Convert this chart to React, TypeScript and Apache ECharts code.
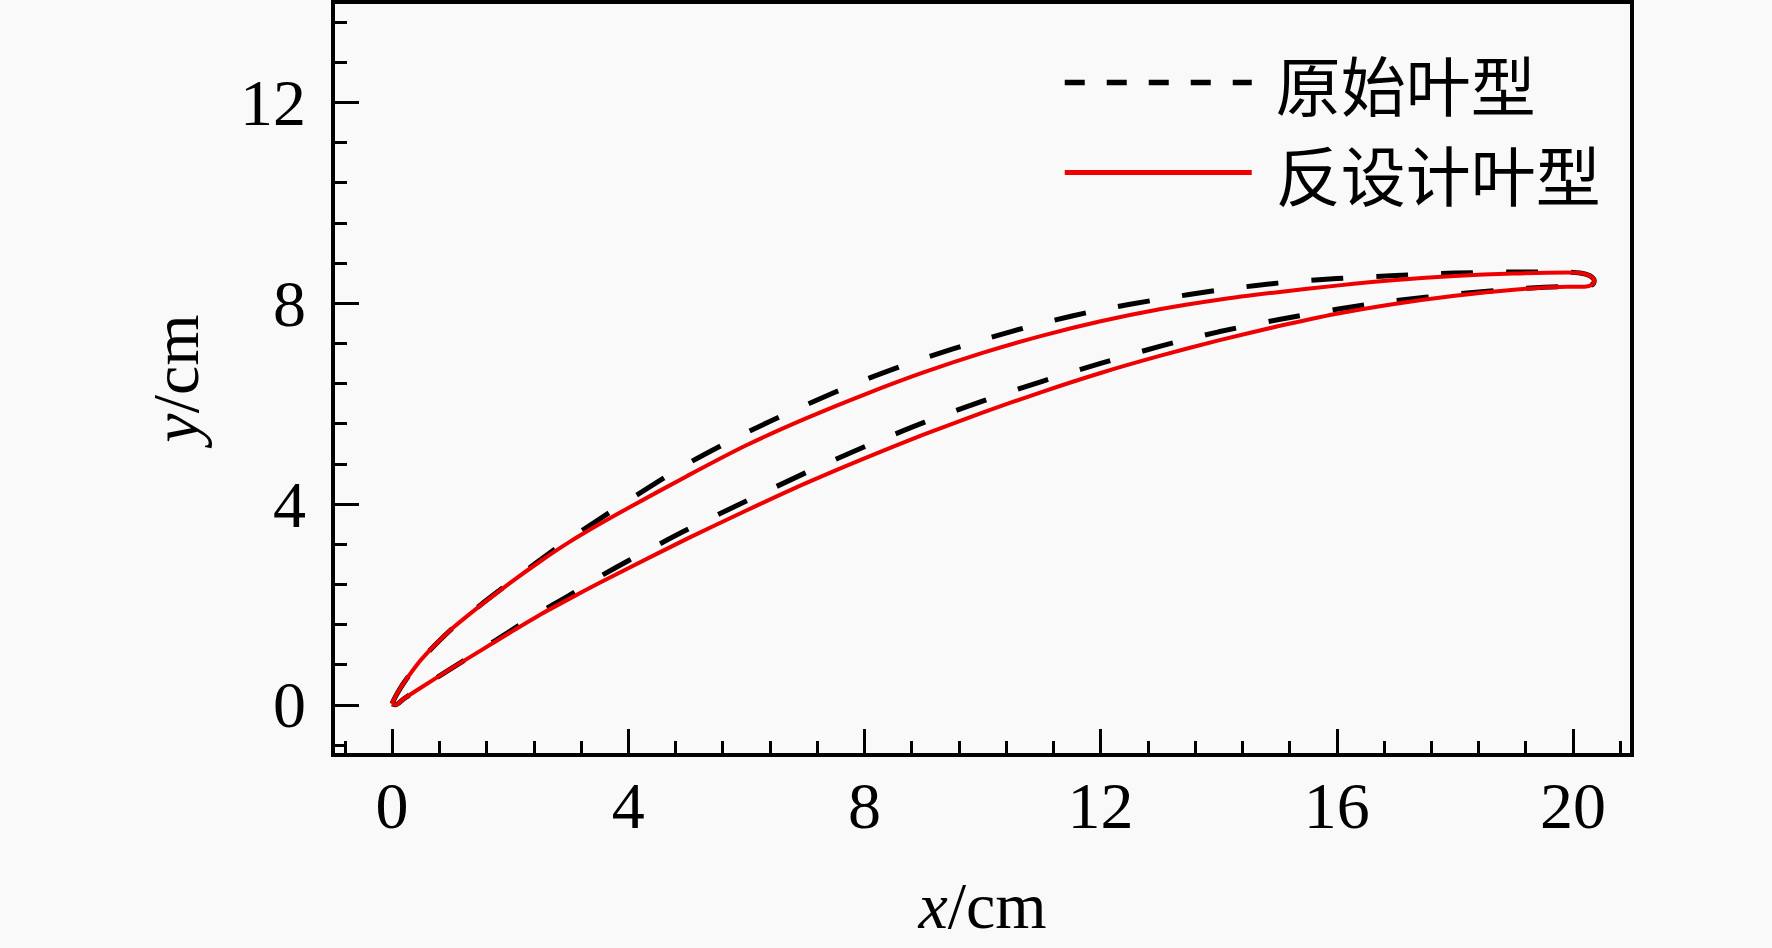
import React, { useEffect, useRef } from 'react';
import * as echarts from 'echarts';

// ---- data ----
const seriesNames = ['原始叶型', '反设计叶型'];
const xMajorTicks = [0, 4, 8, 12, 16, 20];
const yMajorTicks = [0, 4, 8, 12];
const xRange = [-1, 21];
const yRange = [-1, 14];
const minorParts = 5;
const xTitle = '{i|x}/cm';
const yTitle = '{i|y}/cm';

// original blade (black dashed): suction side, leading edge -> trailing edge
const originalSuction = [
  [0, 0.02], [0.03, 0.1], [0.1, 0.25], [0.2, 0.44], [0.5, 0.91], [1, 1.5], [1.5, 1.99],
  [2, 2.44], [2.5, 2.88], [3, 3.3], [3.5, 3.69], [4, 4.07], [5, 4.8], [6, 5.42],
  [7, 5.97], [8, 6.47], [9, 6.9], [10, 7.27], [11, 7.6], [12, 7.87], [13, 8.08],
  [14, 8.26], [15, 8.4], [16, 8.49], [17, 8.55], [18, 8.6], [19, 8.62], [19.9, 8.62],
];
const originalTrailing = [[20.12, 8.6], [20.28, 8.55], [20.36, 8.46], [20.34, 8.38], [20.2, 8.33]];
// original blade: pressure side, leading edge -> trailing edge
const originalPressure = [
  [0, 0.02], [0.06, 0.0], [0.2, 0.12], [0.5, 0.35], [1, 0.72], [1.5, 1.09], [2, 1.47],
  [2.5, 1.84], [3, 2.18], [3.5, 2.54], [4, 2.87], [5, 3.49], [6, 4.06], [7, 4.62],
  [8, 5.14], [9, 5.62], [10, 6.05], [11, 6.44], [12, 6.8], [13, 7.14], [14, 7.43],
  [15, 7.67], [16, 7.88], [17, 8.05], [18, 8.18], [19, 8.28], [19.9, 8.33],
];

// inverse-designed blade (red solid): suction side, leading edge -> trailing edge
const inverseSuction = [
  [0, 0.02], [0.03, 0.1], [0.1, 0.25], [0.2, 0.44], [0.5, 0.91], [1, 1.5], [1.5, 1.98],
  [2, 2.43], [2.5, 2.85], [3, 3.24], [3.5, 3.59], [4, 3.92], [5, 4.56], [6, 5.17],
  [7, 5.7], [8, 6.18], [9, 6.62], [10, 7.01], [11, 7.35], [12, 7.64], [13, 7.88],
  [14, 8.07], [15, 8.22], [16, 8.35], [17, 8.46], [18, 8.54], [19, 8.59], [19.9, 8.61],
];
const inverseTrailing = [[20.12, 8.6], [20.28, 8.55], [20.36, 8.46], [20.34, 8.38], [20.2, 8.33]];
// inverse-designed blade: pressure side, leading edge -> trailing edge
const inversePressure = [
  [0, 0.02], [0.06, 0.0], [0.2, 0.12], [0.5, 0.35], [1, 0.72], [1.5, 1.08], [2, 1.44],
  [2.5, 1.79], [3, 2.11], [3.5, 2.42], [4, 2.72], [5, 3.31], [6, 3.87], [7, 4.41],
  [8, 4.91], [9, 5.38], [10, 5.82], [11, 6.23], [12, 6.61], [13, 6.95], [14, 7.26],
  [15, 7.54], [16, 7.79], [17, 7.99], [18, 8.15], [19, 8.27], [19.9, 8.33],
];

// ---- helpers ----
function closedProfile(suction: number[][], trailing: number[][], pressure: number[][]) {
  return [...suction, ...trailing, ...pressure.slice().reverse()];
}

function minorTicks(majors: number[], parts: number, min: number, max: number) {
  const step = (majors[1] - majors[0]) / parts;
  const out: number[] = [];
  const start = majors[0] - Math.floor((majors[0] - min) / step) * step;
  for (let v = start; v <= max + 1e-9; v += step) {
    const r = Math.round(v * 1000) / 1000;
    const isMajor = majors.some((m) => Math.abs(m - r) < 1e-6);
    if (!isMajor && r > min + 1e-6 && r < max - 1e-6) out.push(r);
  }
  return out;
}

const SERIF = "'Times New Roman', 'Liberation Serif', serif";
const CJK = "'Noto Sans CJK SC', sans-serif";
const RED = '#ee0000';

export default function App() {
  const ref = useRef<HTMLDivElement>(null);

  useEffect(() => {
    if (!ref.current) return;
    const chart = echarts.init(ref.current, undefined, { renderer: 'svg' });

    const xMinor = minorTicks(xMajorTicks, minorParts, xRange[0], xRange[1]);
    const yMinor = minorTicks(yMajorTicks, minorParts, yRange[0], yRange[1]);

    const axisLineStyle = { color: '#000', width: 4 };
    const labelStyle = { color: '#000', fontFamily: SERIF, fontSize: 66 };
    const nameStyle = {
      color: '#000',
      fontFamily: SERIF,
      fontSize: 66,
      rich: { i: { fontStyle: 'italic', fontFamily: SERIF, fontSize: 66, color: '#000' } },
    };
    const hiddenDot = { color: 'rgba(0,0,0,0)', borderColor: 'rgba(0,0,0,0)', borderWidth: 0, opacity: 0 };

    const option: any = {
      animation: false,
      backgroundColor: '#f9f9f9',
      grid: {
        left: 333,
        right: 140,
        top: 2,
        bottom: 193,
        show: true,
        borderColor: '#000',
        borderWidth: 4,
        backgroundColor: 'transparent',
        containLabel: false,
      },
      legend: {
        orient: 'vertical',
        left: 1062,
        top: 50,
        padding: 0,
        itemWidth: 187,
        itemHeight: 14,
        itemGap: 25,
        textStyle: { color: '#000', fontFamily: CJK, fontSize: 65, padding: [0, 0, 0, 19] },
        data: [
          { name: seriesNames[0], lineStyle: { type: [20, 22], width: 5.5, color: '#000' }, itemStyle: hiddenDot },
          { name: seriesNames[1], lineStyle: { type: 'solid', width: 5, color: RED }, itemStyle: hiddenDot },
        ],
      },
      xAxis: [
        {
          type: 'value',
          min: xRange[0],
          max: xRange[1],
          position: 'bottom',
          name: xTitle,
          nameLocation: 'middle',
          nameGap: 117,
          nameTextStyle: nameStyle,
          axisLine: { show: true, onZero: false, lineStyle: axisLineStyle },
          axisTick: { show: true, inside: true, length: 26, lineStyle: { color: '#000', width: 3 }, customValues: xMajorTicks },
          axisLabel: { show: true, margin: 17, ...labelStyle, customValues: xMajorTicks },
          splitLine: { show: false },
        },
        {
          type: 'value',
          min: xRange[0],
          max: xRange[1],
          position: 'bottom',
          offset: 0,
          axisLine: { show: false, onZero: false },
          axisTick: { show: true, inside: true, length: 14, lineStyle: { color: '#000', width: 3 }, customValues: xMinor },
          axisLabel: { show: false },
          splitLine: { show: false },
        },
      ],
      yAxis: [
        {
          type: 'value',
          min: yRange[0],
          max: yRange[1],
          position: 'left',
          name: yTitle,
          nameLocation: 'middle',
          nameGap: 125,
          nameRotate: 90,
          nameTextStyle: nameStyle,
          axisLine: { show: true, onZero: false, lineStyle: axisLineStyle },
          axisTick: { show: true, inside: true, length: 26, lineStyle: { color: '#000', width: 3 }, customValues: yMajorTicks },
          axisLabel: { show: true, margin: 27, ...labelStyle, customValues: yMajorTicks },
          splitLine: { show: false },
        },
        {
          type: 'value',
          min: yRange[0],
          max: yRange[1],
          position: 'left',
          offset: 0,
          axisLine: { show: false, onZero: false },
          axisTick: { show: true, inside: true, length: 14, lineStyle: { color: '#000', width: 3 }, customValues: yMinor },
          axisLabel: { show: false },
          splitLine: { show: false },
        },
      ],
      series: [
        {
          name: seriesNames[0],
          type: 'line',
          xAxisIndex: 0,
          yAxisIndex: 0,
          data: closedProfile(originalSuction, originalTrailing, originalPressure),
          symbol: 'none',
          showSymbol: false,
          smooth: 0.25,
          clip: false,
          lineStyle: { color: '#000', width: 5, type: [32, 33] },
          itemStyle: { color: '#000' },
          z: 2,
        },
        {
          name: seriesNames[1],
          type: 'line',
          xAxisIndex: 0,
          yAxisIndex: 0,
          data: closedProfile(inverseSuction, inverseTrailing, inversePressure),
          symbol: 'none',
          showSymbol: false,
          smooth: 0.25,
          clip: false,
          lineStyle: { color: RED, width: 4, type: 'solid' },
          itemStyle: { color: RED },
          z: 3,
        },
      ],
    };

    chart.setOption(option);
    return () => chart.dispose();
  }, []);

  return (
    <div
      ref={ref}
      style={{ position: 'fixed', left: 0, top: 0, width: 1772, height: 948, background: '#f9f9f9' }}
    />
  );
}
